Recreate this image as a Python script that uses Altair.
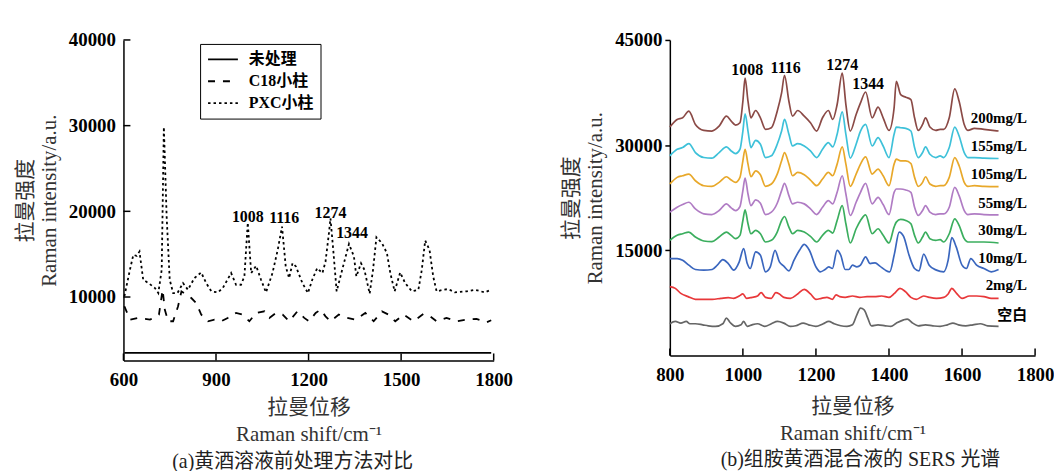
import altair as alt
import pandas as pd

FONT_SERIF = "Liberation Serif"
FONT_MIX = "Liberation Serif, Noto Sans CJK SC"

# ---------------- Panel (a) data ----------------
A_SERIES = ["未处理", "C18小柱", "PXC小柱"]
A_RAW_X = [603, 900, 1200, 1500, 1792]
A_RAW_Y = [3490, 3490, 3480, 3490, 3480]
A_C18_X = [603, 621, 648, 686, 715, 727, 734, 745, 761, 777, 788, 804, 820, 836, 852,
           874, 895, 917, 938, 965, 987, 1008, 1030, 1057, 1073, 1094, 1116, 1137, 1164,
           1186, 1202, 1223, 1239, 1255, 1271, 1298, 1325, 1352, 1384, 1411, 1438, 1459,
           1481, 1508, 1540, 1572, 1594, 1615, 1647, 1679, 1712, 1744, 1777, 1792]
A_C18_Y = [8920, 7360, 7560, 7360, 7950, 10850, 8540, 7170, 7170, 8920, 10660, 10270, 9880,
           9300, 7950, 7170, 7360, 7170, 7560, 8140, 7950, 7170, 8140, 8330, 7560, 8140,
           7950, 7170, 8330, 7560, 7170, 8140, 8530, 7750, 7170, 7950, 7560, 7360, 8140,
           7170, 8330, 7950, 7170, 7950, 7170, 8020, 7750, 7170, 7560, 7170, 7360, 7440,
           7050, 7290]
A_PXC_X = [603, 621, 632, 643, 652, 664, 681, 702, 713, 724, 731, 740, 750, 761, 775, 793,
           809, 830, 852, 868, 885, 906, 922, 949, 965, 981, 992, 1003, 1014, 1030, 1046,
           1062, 1083, 1100, 1114, 1126, 1137, 1148, 1159, 1180, 1198, 1212, 1228, 1245,
           1255, 1266, 1271, 1280, 1291, 1309, 1331, 1347, 1355, 1370, 1381, 1398, 1409,
           1420, 1438, 1454, 1465, 1479, 1497, 1513, 1535, 1556, 1567, 1578, 1592, 1604,
           1615, 1637, 1653, 1674, 1712, 1739, 1771, 1792]
A_PXC_Y = [10080, 13180, 14920, 14800, 15310, 12020, 11630, 11050, 10460, 13180, 29850,
           19380, 12020, 10460, 10460, 11630, 10850, 12210, 12870, 11630, 10660, 10540,
           11050, 12790, 11430, 11430, 12400, 18680, 12790, 13640, 12020, 10540, 12790,
           15500, 18220, 13570, 12210, 13950, 13570, 11630, 10460, 12020, 13370, 12790,
           14150, 17440, 19190, 15500, 10660, 13180, 16200, 14730, 12400, 13950, 13180,
           10390, 13180, 16980, 16280, 15120, 12790, 10660, 12870, 11630, 10660, 10850,
           13180, 16590, 15500, 12400, 10660, 10850, 10930, 10540, 10660, 10850, 10540,
           10850]
A_PEAK_TEXT = ["1008", "1116", "1274", "1344"]
A_PEAK_X = [1003, 1121, 1271, 1341]
A_PEAK_Y = [19380, 19190, 19850, 17440]
A_XTICKS = [600, 900, 1200, 1500, 1800]
A_YTICKS = [10000, 20000, 30000, 40000]

# ---------------- Panel (b) data ----------------
B_SERIES = ["200mg/L", "155mg/L", "105mg/L", "55mg/L", "30mg/L", "10mg/L", "2mg/L", "空白"]
B_COLORS = ["#8b4a46", "#3ec1d9", "#e8a82a", "#b07cc4", "#3bae5e", "#3a66be", "#e8383a", "#666666"]
B_GRID = [800, 820, 835, 852, 870, 893, 915, 935, 955, 968, 980, 992, 1000, 1006, 1014, 1022,
          1035, 1048, 1062, 1078, 1094, 1106, 1114, 1126, 1136, 1150, 1168, 1185, 1202, 1218,
          1234, 1246, 1258, 1272, 1282, 1294, 1310, 1322, 1336, 1354, 1370, 1384, 1400, 1414,
          1420, 1432, 1446, 1460, 1470, 1480, 1492, 1500, 1512, 1528, 1540, 1550, 1565, 1580,
          1592, 1606, 1616, 1634, 1660, 1700]
B_200 = [32580, 33660, 33900, 34840, 32950, 32100, 32010, 32720, 34130, 33430, 32860, 33190,
         36260, 39570, 36260, 33900, 34940, 33900, 32250, 32480, 34840, 37440, 39950, 36260,
         34130, 34940, 34130, 33190, 32010, 33900, 34940, 33660, 35790, 40280, 35790, 32010,
         34370, 36020, 37580, 33900, 35410, 33900, 32100, 35320, 39100, 37200, 36830, 36500,
         33900, 32100, 32950, 33900, 32580, 32100, 32250, 32250, 33900, 38010, 36260, 32950,
         32100, 32390, 32250, 32010]
B_155 = [28470, 29410, 29650, 30210, 28940, 28230, 28140, 28940, 29740, 29170, 28800, 29410,
         32010, 34470, 32010, 29650, 30690, 30120, 28230, 28470, 30120, 32010, 33660, 31540,
         29880, 30210, 29880, 29170, 28230, 29410, 30360, 29740, 31540, 34750, 31540, 28140,
         30120, 32010, 32950, 29880, 31060, 29880, 28230, 31540, 32580, 32480, 32390, 32010,
         29650, 28230, 28940, 29740, 28700, 28230, 28470, 28230, 29650, 32580, 31300, 28940,
         28230, 28230, 28140, 28090]
B_105 = [24450, 25400, 25630, 25870, 24920, 24210, 24120, 24690, 25490, 25020, 24690, 25400,
         27760, 29410, 27290, 25490, 26340, 25770, 24120, 24450, 25870, 27760, 28940, 27290,
         25630, 26100, 25770, 25020, 24210, 25160, 26100, 25630, 27290, 29740, 27290, 24120,
         25870, 27290, 28320, 25870, 26580, 25630, 24210, 27290, 27990, 27760, 27760, 27380,
         25400, 24120, 24690, 25490, 24450, 24120, 24210, 24210, 25400, 28230, 27050, 24690,
         24120, 24210, 24120, 24070]
B_55 = [20440, 21140, 21520, 21850, 20910, 20200, 20100, 20670, 21620, 21050, 20670, 21240,
        23510, 25300, 23030, 21380, 22180, 21710, 20100, 20440, 21710, 23510, 24550, 22800,
        21620, 21850, 21620, 20910, 20100, 21140, 22090, 21620, 23270, 25630, 23030, 19960,
        21850, 23270, 24550, 21620, 22560, 21520, 20100, 23270, 23740, 23740, 23600, 23270,
        21140, 19960, 20670, 21380, 20440, 20100, 20200, 20200, 21140, 23980, 22800, 20670,
        20100, 20200, 20100, 20060]
B_30 = [16420, 17130, 17360, 17600, 16890, 16330, 16230, 16890, 17600, 17130, 16660, 17130,
        19250, 20770, 18780, 17360, 17840, 17360, 16180, 16420, 17600, 19250, 19820, 18310,
        17360, 17840, 17600, 16990, 16180, 17130, 17840, 17460, 19250, 21380, 18780, 16040,
        18070, 19250, 20060, 17360, 18070, 17130, 16040, 18310, 19020, 19400, 19250, 18780,
        17130, 16040, 16890, 17600, 16660, 16420, 16510, 16180, 17360, 19490, 18550, 16660,
        16180, 16180, 16180, 16040]
B_10_X = [800, 820, 835, 852, 870, 893, 916, 930, 945, 960, 975, 990, 1002, 1012, 1020, 1035,
          1048, 1062, 1075, 1088, 1100, 1112, 1126, 1140, 1155, 1168, 1182, 1200, 1212, 1225,
          1235, 1245, 1258, 1268, 1280, 1290, 1300, 1312, 1322, 1336, 1348, 1362, 1375, 1390,
          1402, 1415, 1428, 1440, 1455, 1470, 1482, 1495, 1510, 1530, 1550, 1562, 1572, 1584,
          1600, 1612, 1624, 1640, 1660, 1680, 1700]
B_10_Y = [13820, 13820, 13590, 12880, 12260, 12170, 12260, 12880, 13680, 13110, 12170, 13350,
          15240, 13110, 12400, 14770, 14290, 11930, 12640, 15000, 13350, 12740, 12070, 13590,
          15000, 15850, 15000, 12640, 11930, 12260, 12640, 12400, 15000, 14290, 12260, 12260,
          12880, 12640, 12880, 14060, 13110, 13210, 12740, 12170, 11930, 14530, 17600, 16990,
          14290, 12400, 12070, 14440, 12880, 12170, 11930, 13590, 16800, 15480, 12880, 12400,
          13820, 12880, 12400, 11930, 12260]
B_2_X = [800, 815, 830, 850, 870, 890, 916, 940, 960, 975, 990, 1000, 1010, 1025, 1040, 1050,
         1062, 1078, 1090, 1100, 1112, 1130, 1150, 1168, 1185, 1200, 1215, 1230, 1245, 1255,
         1265, 1280, 1300, 1320, 1340, 1360, 1380, 1400, 1415, 1430, 1445, 1460, 1475, 1495,
         1510, 1530, 1550, 1562, 1572, 1585, 1600, 1620, 1640, 1660, 1680, 1700]
B_2_Y = [9810, 9570, 8860, 8390, 8010, 8010, 8010, 8150, 8250, 8150, 8480, 8770, 8150, 8290,
         8480, 8960, 8290, 8150, 8960, 8770, 8290, 8150, 8770, 9430, 8770, 8010, 8150, 8290,
         8010, 8630, 8390, 8290, 8480, 8290, 8390, 8390, 8480, 8290, 8860, 9570, 9100, 8290,
         8010, 8480, 8290, 8150, 8290, 8770, 9570, 8860, 8150, 8480, 8480, 8390, 8150, 8150]
B_0_X = [800, 815, 830, 845, 855, 870, 890, 905, 925, 945, 955, 965, 980, 995, 1002, 1012,
         1025, 1040, 1060, 1078, 1095, 1112, 1130, 1145, 1165, 1180, 1200, 1220, 1235, 1250,
         1268, 1285, 1300, 1312, 1322, 1332, 1342, 1352, 1370, 1390, 1405, 1420, 1440, 1450,
         1465, 1480, 1500, 1520, 1540, 1560, 1575, 1590, 1610, 1630, 1650, 1670, 1700]
B_0_Y = [4520, 4850, 4610, 4850, 4520, 4520, 4370, 4230, 4140, 4520, 5320, 4700, 4140, 4370,
         4850, 4140, 4370, 4520, 4140, 4520, 4850, 4610, 4140, 4230, 4610, 4370, 4140, 4520,
         4850, 4520, 4230, 4140, 4370, 5790, 6740, 6500, 5320, 4230, 4370, 4230, 4140, 4610,
         5080, 5180, 4610, 4230, 4370, 4230, 4140, 4370, 4610, 4370, 4230, 4370, 4520, 4230,
         4140]
B_LABEL_Y = [33800, 29880, 25870, 21710, 17840, 13960, 10040, 5790]
B_PEAK_TEXT = ["1008", "1116", "1274", "1344"]
B_PEAK_X = [1012, 1117, 1272, 1343]
B_PEAK_Y = [40750, 40980, 41360, 38720]
B_XTICKS = [800, 1000, 1200, 1400, 1600, 1800]
B_YTICKS = [15000, 30000, 45000]


def frame(name, xs, ys):
    return pd.DataFrame({"w": xs, "v": ys, "s": name})


X_TITLE = ["拉曼位移", "Raman shift/cm⁻¹"]
Y_TITLE = ["拉曼强度", "Raman intensity/a.u."]

# ---------------- Panel (a) ----------------
WA, HA = 372, 322
df_a = pd.concat([frame(A_SERIES[0], A_RAW_X, A_RAW_Y),
                  frame(A_SERIES[1], A_C18_X, A_C18_Y),
                  frame(A_SERIES[2], A_PXC_X, A_PXC_Y)], ignore_index=True)

xa_scale = alt.Scale(domain=[600, 1800], nice=False, zero=False)
ya_scale = alt.Scale(domain=[2600, 40000], nice=False, zero=False)
xa_axis = alt.Axis(values=A_XTICKS, format="d", ticks=False, tickSize=0, labelPadding=10,
                   title=X_TITLE, titlePadding=7, titleLineHeight=27)
ya_axis = alt.Axis(values=A_YTICKS, format="d", ticks=False, tickSize=0, labelPadding=8,
                   title=Y_TITLE, titlePadding=9, titleLineHeight=24)
XA_PLAIN = alt.X("w:Q", scale=xa_scale)
YA_PLAIN = alt.Y("v:Q", scale=ya_scale)

lines_a = alt.Chart(df_a).mark_line(color="black", strokeWidth=1.8).encode(
    x=alt.X("w:Q", scale=xa_scale, axis=xa_axis),
    y=alt.Y("v:Q", scale=ya_scale, axis=ya_axis),
    strokeDash=alt.StrokeDash(
        "s:N",
        scale=alt.Scale(domain=A_SERIES, range=[[1, 0], [7, 8], [2.5, 3]]),
        legend=alt.Legend(title=None, orient="none", legendX=77, legendY=4,
                          symbolType="M-1,0H3", symbolSize=225, symbolStrokeWidth=1.8,
                          symbolStrokeColor="black", strokeColor="black", padding=7,
                          labelFont=FONT_MIX, labelFontSize=16, labelFontWeight="bold",
                          labelColor="black", labelOffset=25, rowPadding=5)),
)

df_a_peaks = pd.DataFrame({"w": A_PEAK_X, "v": A_PEAK_Y, "t": A_PEAK_TEXT})
peaks_a = alt.Chart(df_a_peaks).mark_text(
    font=FONT_SERIF, fontSize=16, fontWeight="bold", color="black", baseline="middle"
).encode(x=XA_PLAIN, y=YA_PLAIN, text="t:N")

xt_a = alt.Chart(pd.DataFrame({"w": A_XTICKS})).mark_rule(color="black", strokeWidth=1.5).encode(
    x=XA_PLAIN, y=alt.value(HA), y2=alt.value(HA - 7))
yt_a = alt.Chart(pd.DataFrame({"v": A_YTICKS})).mark_rule(color="black", strokeWidth=1.5).encode(
    y=YA_PLAIN, x=alt.value(0), x2=alt.value(7))

panel_a = alt.layer(lines_a, peaks_a, xt_a, yt_a).properties(
    width=WA, height=HA,
    title=alt.TitleParams("(a)黄酒溶液前处理方法对比", orient="bottom", font=FONT_MIX,
                          fontSize=20, fontWeight="normal", color="#222", offset=8, dx=-16))

# ---------------- Panel (b) ----------------
WB, HB = 367, 317
df_b = pd.concat([frame(B_SERIES[0], B_GRID, B_200),
                  frame(B_SERIES[1], B_GRID, B_155),
                  frame(B_SERIES[2], B_GRID, B_105),
                  frame(B_SERIES[3], B_GRID, B_55),
                  frame(B_SERIES[4], B_GRID, B_30),
                  frame(B_SERIES[5], B_10_X, B_10_Y),
                  frame(B_SERIES[6], B_2_X, B_2_Y),
                  frame(B_SERIES[7], B_0_X, B_0_Y)], ignore_index=True)

xb_scale = alt.Scale(domain=[800, 1800], nice=False, zero=False)
yb_scale = alt.Scale(domain=[0, 45000], nice=False)
xb_axis = alt.Axis(values=B_XTICKS, format="d", ticks=False, tickSize=0, labelPadding=10,
                   title=X_TITLE, titlePadding=11, titleLineHeight=27)
yb_axis = alt.Axis(values=B_YTICKS, format="d", ticks=True, tickSize=5, labelPadding=3,
                   title=Y_TITLE, titlePadding=9, titleLineHeight=24)
XB_PLAIN = alt.X("w:Q", scale=xb_scale)
YB_PLAIN = alt.Y("v:Q", scale=yb_scale)

lines_b = alt.Chart(df_b).mark_line(strokeWidth=1.7, interpolate="monotone").encode(
    x=alt.X("w:Q", scale=xb_scale, axis=xb_axis),
    y=alt.Y("v:Q", scale=yb_scale, axis=yb_axis),
    color=alt.Color("s:N", scale=alt.Scale(domain=B_SERIES, range=B_COLORS), legend=None),
)

df_b_labels = pd.DataFrame({"w": [1778] * len(B_SERIES), "v": B_LABEL_Y, "t": B_SERIES})
labels_b = alt.Chart(df_b_labels).mark_text(
    font=FONT_MIX, fontSize=15, fontWeight="bold", color="black", align="right",
    baseline="middle"
).encode(x=XB_PLAIN, y=YB_PLAIN, text="t:N")

df_b_peaks = pd.DataFrame({"w": B_PEAK_X, "v": B_PEAK_Y, "t": B_PEAK_TEXT})
peaks_b = alt.Chart(df_b_peaks).mark_text(
    font=FONT_SERIF, fontSize=16, fontWeight="bold", color="black", baseline="middle"
).encode(x=XB_PLAIN, y=YB_PLAIN, text="t:N")

xt_b = alt.Chart(pd.DataFrame({"w": B_XTICKS})).mark_rule(color="black", strokeWidth=1.5).encode(
    x=XB_PLAIN, y=alt.value(HB), y2=alt.value(HB - 7))

panel_b = alt.layer(lines_b, labels_b, peaks_b, xt_b).properties(
    width=WB, height=HB,
    title=alt.TitleParams("(b)组胺黄酒混合液的 SERS 光谱", orient="bottom", font=FONT_MIX,
                          fontSize=20, fontWeight="normal", color="#222", offset=7, dx=8))

chart = alt.hconcat(panel_a, panel_b, spacing=48).properties(
    padding={"left": 6, "top": 22, "right": 0, "bottom": 0}
).configure_view(stroke=None).configure_axis(
    domainColor="black", domainWidth=1.5, tickColor="black", tickWidth=1.5, grid=False,
    labelFont=FONT_SERIF, labelFontSize=19, labelFontWeight="bold", labelColor="black",
    labelFlush=False, labelOverlap=False,
    titleFont=FONT_MIX, titleFontSize=21, titleFontWeight="normal", titleColor="#333"
)

chart.save("out.html", embed_options={"renderer": "svg", "actions": False})
